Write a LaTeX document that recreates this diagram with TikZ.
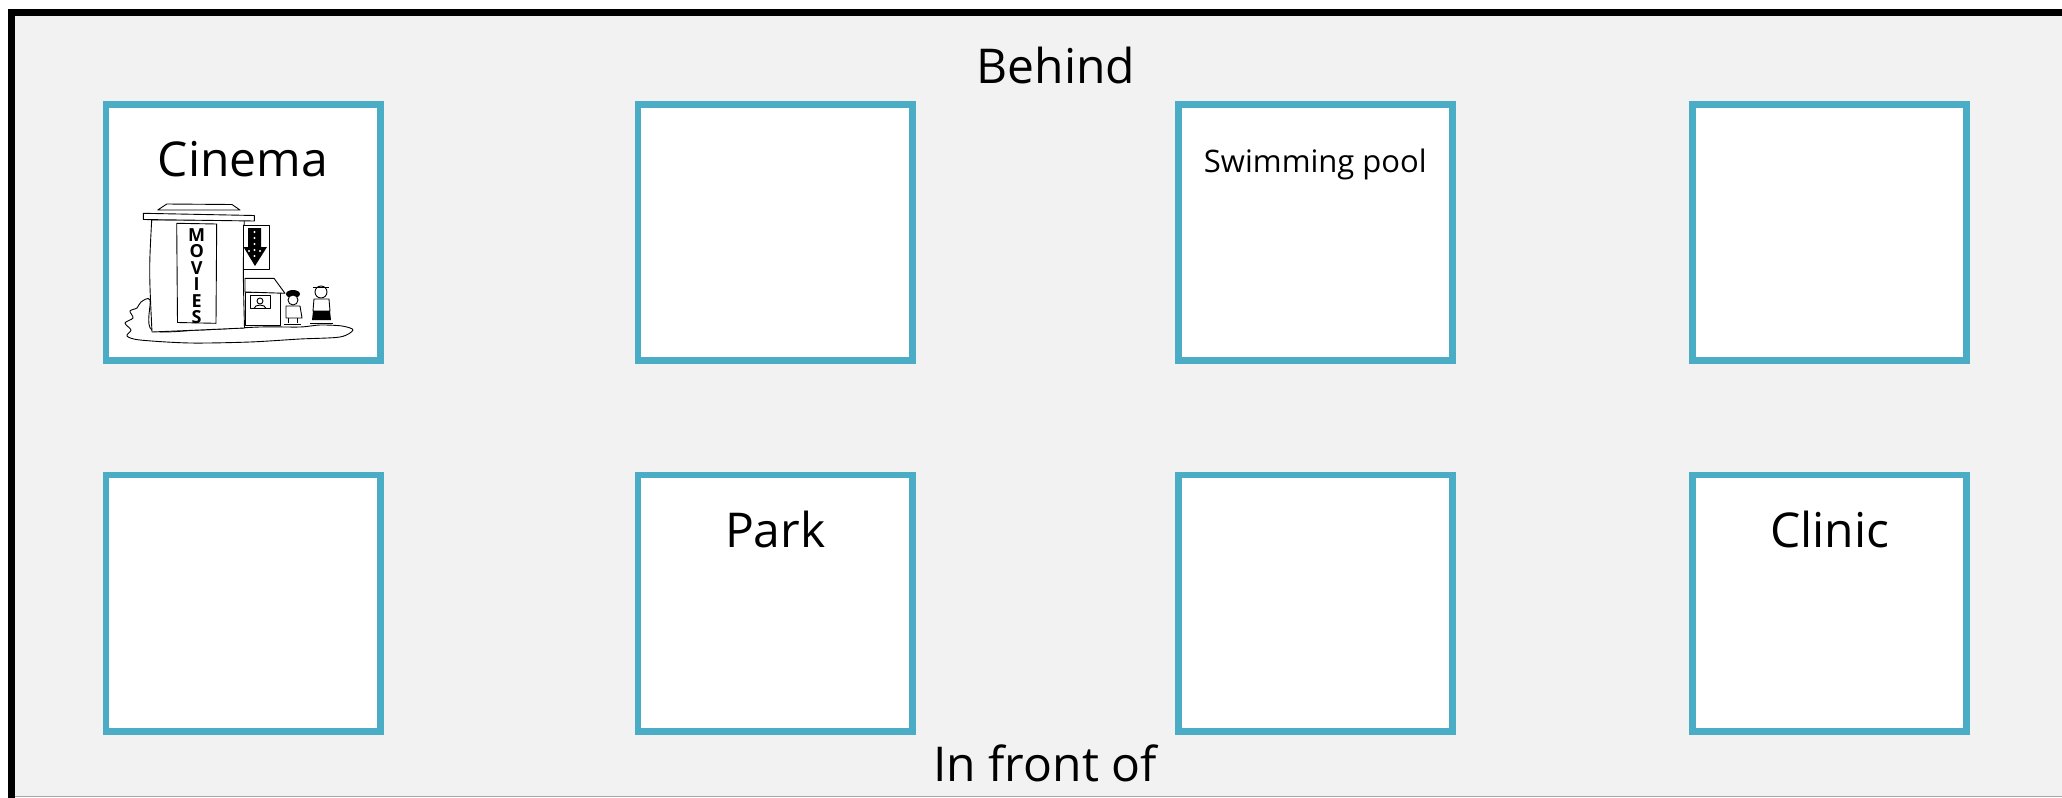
\documentclass[tikz,border=0pt]{standalone}
\usepackage{fontspec}
\setmainfont{Open Sans}
\usetikzlibrary{positioning,calc}

\definecolor{rahmenblau}{HTML}{4BACC6}
\definecolor{hintergrund}{HTML}{F2F2F2}

\def\felder{243.0/232.5/f1,775.2/232.5/f2,1315.35/232.5/f3,1829.65/232.5/f4,%  hinten
            243.0/603.15/f5,775.2/603.15/f6,1315.35/603.15/f7,1829.65/603.15/f8}% vorne

\tikzset{
  feld/.style={draw=rahmenblau, line width=3.35pt, fill=white,
    minimum width=137.15pt, minimum height=128.15pt, inner sep=0pt},
  gross/.style={font=\fontsize{24}{29}\selectfont, inner sep=0pt, anchor=base},
  klein/.style={font=\fontsize{15.5}{19}\selectfont, inner sep=0pt, anchor=base},
  linie/.style={line width=0.45pt, line join=round},
}

\begin{document}
\begin{tikzpicture}[x=0.5pt,y=-0.5pt]
\useasboundingbox (0,0) rectangle (2062,798);

% Hintergrund und Rahmen
\fill[hintergrund] (11.8,12.5) rectangle (2062,796.7);
\draw[gray!70, line width=0.6pt] (11.8,796.7) -- (2062,796.7);
\draw[black, line width=3.5pt] (11.8,798) -- (11.8,12.5) -- (2062,12.5);

% Felder
\foreach \x/\y/\name in \felder {
  \node[feld] (\name) at (\x,\y) {};
}

% Beschriftungen
\node[gross] (behind) at (1056,83.3) {Behind};
\node[gross] (front) at (1045,781) {In front of};
\node[gross] (cinema) at ([yshift=-37.85pt]f1.north) {Cinema};
\node[klein] (pool) at ([yshift=-35.85pt]f3.north) {Swimming pool};
\node[gross] (park) at ([yshift=-37.85pt]f6.north) {Park};
\node[gross] (clinic) at ([yshift=-37.85pt]f8.north) {Clinic};

% Kino-Bild
\begin{scope}[linie]
  % Boden
  \draw[fill=white] plot[smooth cycle] coordinates {(150,300) (141,302) (137,308) (130,311)
    (133,318) (125,323) (131,330) (127,336) (140,340) (190,343) (250,342) (300,339)
    (340,337) (353,330) (342,326) (320,325) (300,327) (260,327) (200,330) (152,330)};
  % Gebaeude
  \draw[fill=white] (151.7,220) .. controls (149,270) .. (152,332)
    .. controls (200,330) .. (244.5,328) .. controls (243,270) .. (244.3,220) -- cycle;
  \draw[fill=white] (143.3,213.3) -- (254.3,215.5) -- (254.3,221) -- (143.3,219.5) -- cycle;
  \draw[fill=white] (166.7,204) -- (232,204.5) -- (240,210) -- (157.7,210) -- cycle;
  % Schild
  \draw[fill=white] (176.7,223.3) -- (216.7,224) -- (216,323.3) -- (177.5,322.5) -- cycle;
  \foreach \b [count=\i from 0] in {M,O,V,I,E,S} {
    \node[font=\fontsize{9}{9}\selectfont\bfseries, inner sep=0pt] (buchstabe\i) at (196.7,235+16.5*\i) {\b};
  }
  % Pfeilschild
  \draw[fill=white] (243.3,225) rectangle (269,269.3);
  \fill[black] (248,228) -- (261,228) -- (261,247) -- (267,247) -- (255,266)
    -- (243.5,247) -- (248,247) -- cycle;
  \foreach \yy in {232,238,244,250,256} {
    \fill[white] (254.5,\yy) circle (1.2);
  }
  \fill[white] (249,251) circle (1.2) (260,251) circle (1.2);
  % Kasse
  \draw[fill=white] (245,292) rectangle (280,325);
  \draw[fill=white] (245,292) -- (245,278.3) -- (274,278.3) -- (285,293.3) -- cycle;
  \draw[fill=white] (250.7,295) rectangle (270,308.3);
  \draw (260,301) circle (3);
  \draw (254,308.3) .. controls (255,304) and (265,304) .. (266,308.3);
  % Leute
  \fill[black] (293,294) ellipse (7 and 4);
  \draw[fill=white] (293,300) circle (5);
  \draw[fill=white] (286,306) -- (300,306) -- (302,318) -- (286,318) -- cycle;
  \draw (288,318) -- (288,323) (297,318) -- (297,323) (284,324) -- (301,324);
  \draw[fill=white] (321,292) circle (6);
  \draw (313,287) -- (329,287);
  \draw[fill=white] (314,299) -- (329,299) -- (330,311) -- (313,311) -- cycle;
  \fill[black] (313,311) -- (330,311) -- (331,320) -- (312,320) -- cycle;
  \draw (310,323) -- (333,323);
\end{scope}

\end{tikzpicture}
\end{document}
